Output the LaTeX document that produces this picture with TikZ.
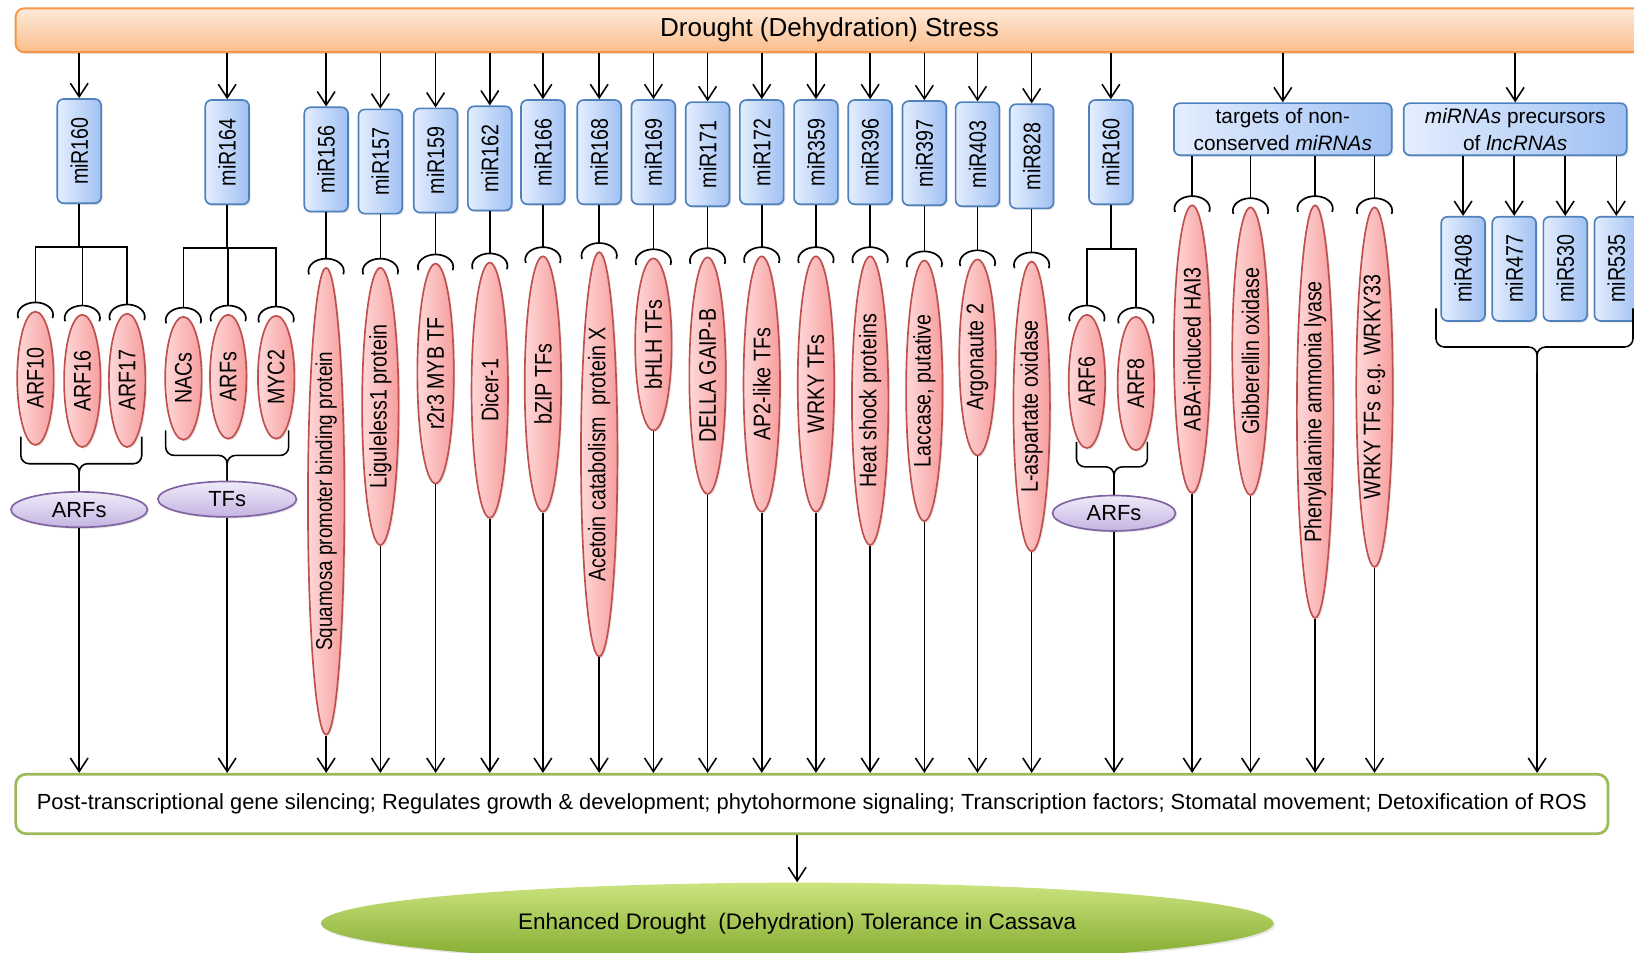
\documentclass[tikz,border=0pt]{standalone}
\usepackage{fontspec}
\setmainfont{Liberation Sans}
\newfontfamily\narrowfont[FakeStretch=0.82]{Liberation Sans}
\usepackage{graphicx}
\usetikzlibrary{arrows.meta,shapes.geometric,shadows}

\definecolor{barline}{RGB}{247,150,70}
\definecolor{bartop}{RGB}{253,234,218}
\definecolor{barbot}{RGB}{251,190,140}
\definecolor{mirline}{RGB}{79,129,189}
\definecolor{mirL}{RGB}{228,238,254}
\definecolor{mirR}{RGB}{160,193,243}
\definecolor{tgtline}{RGB}{192,80,77}
\definecolor{tgtL}{RGB}{255,216,216}
\definecolor{tgtR}{RGB}{247,158,158}
\definecolor{famline}{RGB}{128,100,162}
\definecolor{famtop}{RGB}{240,235,249}
\definecolor{fambot}{RGB}{196,180,226}
\definecolor{roleline}{RGB}{155,187,89}
\definecolor{toltop}{RGB}{204,228,128}
\definecolor{tolbot}{RGB}{126,168,42}

\newcommand{\vlabel}[1]{\rotatebox{90}{#1}}

\tikzset{
  arr/.style={-{Straight Barb[length=6.5pt,width=8.5pt]}, line width=0.75pt},
  link/.style={line width=0.75pt},
  soft/.style={drop shadow={opacity=0.2,shadow xshift=0.8pt,shadow yshift=-0.8pt}},
  stressbar/.style={rectangle, rounded corners=4pt, draw=barline, line width=0.9pt, top color=bartop, bottom color=barbot, minimum width=781pt, minimum height=21pt, font=\fontsize{12.5pt}{14pt}\selectfont, soft},
  mirbox/.style={rectangle, rounded corners=3pt, draw=mirline, line width=0.8pt, left color=mirL, right color=mirR, minimum width=21pt, minimum height=50pt, inner sep=0pt, font=\narrowfont\fontsize{11.5pt}{13pt}\selectfont, soft},
  groupbox/.style={mirbox, minimum height=25pt, align=center, font=\fontsize{10pt}{13pt}\selectfont},
  target/.style={ellipse, draw=tgtline, line width=0.8pt, left color=tgtL, right color=tgtR, minimum width=17.5pt, inner sep=0pt, font=\narrowfont\fontsize{11.5pt}{13pt}\selectfont, soft},
  family/.style={ellipse, draw=famline, line width=0.8pt, top color=famtop, bottom color=fambot, minimum height=17pt, inner sep=0pt, font=\fontsize{10.5pt}{12pt}\selectfont, soft},
  rolebox/.style={rectangle, rounded corners=5pt, draw=roleline, line width=1.3pt, fill=white, minimum width=764pt, minimum height=28.5pt, font=\fontsize{10.5pt}{12pt}\selectfont},
  outcome/.style={ellipse, top color=toltop, bottom color=tolbot, minimum width=457pt, minimum height=39pt, font=\fontsize{10.8pt}{12pt}\selectfont, soft},
  bcap/.pic={\draw[line width=0.8pt] (195:8.5pt and 6pt) arc[start angle=195, end angle=-15, x radius=8.5pt, y radius=6pt];
    \coordinate (-top) at (0,6pt);}
}

\begin{document}
\begin{tikzpicture}[x=0.5pt,y=-0.5pt]
\useasboundingbox (0,0) rectangle (1568,914);

%Shape: stress bar
\node[stressbar] (stress) at (796,29) {Drought (Dehydration) Stress};

%Shape: miRNA boxes
\node[mirbox] (m160a) at (76,145) {\vlabel{miR160}};
\node[mirbox] (m164) at (218,146) {\vlabel{miR164}};
\node[mirbox] (m156) at (313,153) {\vlabel{miR156}};
\node[mirbox] (m157) at (365,155) {\vlabel{miR157}};
\node[mirbox] (m159) at (418,154) {\vlabel{miR159}};
\node[mirbox] (m162) at (470,152) {\vlabel{miR162}};
\node[mirbox] (m166) at (521,146) {\vlabel{miR166}};
\node[mirbox] (m168) at (575,146) {\vlabel{miR168}};
\node[mirbox] (m169) at (627,146) {\vlabel{miR169}};
\node[mirbox] (m171) at (679,148) {\vlabel{miR171}};
\node[mirbox] (m172) at (731,146) {\vlabel{miR172}};
\node[mirbox] (m359) at (783,146) {\vlabel{miR359}};
\node[mirbox] (m396) at (835,146) {\vlabel{miR396}};
\node[mirbox] (m397) at (887,147) {\vlabel{miR397}};
\node[mirbox] (m403) at (938,148) {\vlabel{miR403}};
\node[mirbox] (m828) at (990,150) {\vlabel{miR828}};
\node[mirbox] (m160b) at (1066,146) {\vlabel{miR160}};
\node[groupbox, minimum width=104.5pt] (tgt) at (1231,124) {targets of non-\\conserved \emph{miRNAs}};
\node[groupbox, minimum width=107pt] (prec) at (1454,124) {\emph{miRNAs} precursors\\of \emph{lncRNAs}};
\node[mirbox] (m408) at (1404,258) {\vlabel{miR408}};
\node[mirbox] (m477) at (1453,258) {\vlabel{miR477}};
\node[mirbox] (m530) at (1502,258) {\vlabel{miR530}};
\node[mirbox] (m535) at (1551,258) {\vlabel{miR535}};

%Shape: target ellipses
\node[target, minimum height=64pt] (eARF10) at (34,363) {\vlabel{ARF10}};
\node[target, minimum height=63.5pt] (eARF16) at (79,365.5) {\vlabel{ARF16}};
\node[target, minimum height=64pt] (eARF17) at (122,365) {\vlabel{ARF17}};
\node[target, minimum height=59pt] (eNAC) at (176,363) {\vlabel{NACs}};
\node[target, minimum height=59.5pt] (eARFs) at (219,361.5) {\vlabel{ARFs}};
\node[target, minimum height=59pt] (eMYC) at (265,362) {\vlabel{MYC2}};
\node[target, minimum height=224pt, font=\narrowfont\fontsize{11pt}{13pt}\selectfont] (eSq) at (313,481) {\vlabel{Squamosa promoter binding protein}};
\node[target, minimum height=133pt] (eLig) at (365,390) {\vlabel{Liguleless1 protein}};
\node[target, minimum height=105.5pt] (eMYB) at (418,358.5) {\vlabel{r2r3 MYB TF}};
\node[target, minimum height=122.5pt] (eDic) at (470,374.5) {\vlabel{Dicer-1}};
\node[target, minimum height=122.5pt] (ebZIP) at (521,368.5) {\vlabel{bZIP TFs}};
\node[target, minimum height=194pt] (eAce) at (575,436) {\vlabel{Acetoin catabolism\ \ protein X}};
\node[target, minimum height=82.5pt] (ebHLH) at (627,330.5) {\vlabel{bHLH TFs}};
\node[target, minimum height=113.5pt] (eDEL) at (679,360.5) {\vlabel{DELLA GAIP-B}};
\node[target, minimum height=122.5pt] (eAP2) at (731,368.5) {\vlabel{AP2-like TFs}};
\node[target, minimum height=122.5pt] (eWRKY) at (783,368.5) {\vlabel{WRKY TFs}};
\node[target, minimum height=138.5pt] (eHS) at (835,384.5) {\vlabel{Heat shock proteins}};
\node[target, minimum height=125pt] (eLac) at (887,375) {\vlabel{Laccase, putative}};
\node[target, minimum height=94pt] (eArg) at (938,343) {\vlabel{Argonaute 2}};
\node[target, minimum height=139pt] (eLasp) at (990,390) {\vlabel{L-aspartate oxidase}};
\node[target, minimum height=64pt] (eARF6) at (1043,366) {\vlabel{ARF6}};
\node[target, minimum height=64pt] (eARF8) at (1090,368) {\vlabel{ARF8}};
\node[target, minimum height=138pt] (eABA) at (1144,335) {\vlabel{ABA-induced HAI3}};
\node[target, minimum height=138pt] (eGib) at (1200,337) {\vlabel{Gibberellin oxidase}};
\node[target, minimum height=198pt] (ePAL) at (1262,395) {\vlabel{Phenylalanine ammonia lyase}};
\node[target, minimum height=172.5pt] (eW33) at (1319,371.5) {\vlabel{WRKY TFs e.g. WRKY33}};

%Shape: binding caps
\foreach \e in {ARF10,ARF16,ARF17,NAC,ARFs,MYC,Sq,Lig,MYB,Dic,bZIP,Ace,bHLH,DEL,AP2,WRKY,HS,Lac,Arg,Lasp,ARF6,ARF8,ABA,Gib,PAL,W33}
  \pic (c\e) at ([yshift=-2pt]e\e.north) {bcap};

%Shape: gene families
\node[family, minimum width=65.5pt] (fA) at (76,489) {ARFs};
\node[family, minimum width=66.5pt] (fT) at (218,479) {TFs};
\node[family, minimum width=59pt] (fB) at (1069,492.5) {ARFs};

%Shape: roles box
\node[rolebox] (role) at (779,771.5) {Post-transcriptional gene silencing; Regulates growth \& development; phytohormone signaling; Transcription factors; Stomatal movement; Detoxification of ROS};

%Shape: outcome ellipse
\node[outcome] (tol) at (765,886) {Enhanced Drought\ \ (Dehydration) Tolerance in Cassava};

% stress to miRNAs
\foreach \m in {m160a,m164,m156,m157,m159,m162,m166,m168,m169,m171,m172,m359,m396,m397,m403,m828,m160b,tgt,prec}
  \draw[arr] (stress.south -| \m) -- (\m);
\foreach \m in {m408,m477,m530,m535}
  \draw[arr] (prec.south -| \m) -- (\m);

% miRNAs to targets
\coordinate (j160a) at (m160a.south |- 0,237);
\draw[link] (m160a) -- (j160a);
\draw[link] (cARF10-top) |- (j160a) -| (cARF17-top);
\draw[link] (cARF16-top) -- (cARF16-top |- j160a);
\coordinate (j164) at (m164.south |- 0,238);
\draw[link] (m164) -- (j164);
\draw[link] (cNAC-top) |- (j164) -| (cMYC-top);
\draw[link] (cARFs-top) -- (cARFs-top |- j164);
\coordinate (j160b) at (m160b.south |- 0,239);
\draw[link] (m160b) -- (j160b);
\draw[link] (cARF6-top) |- (j160b) -| (cARF8-top);
\draw[link] (m156) -- (cSq-top);
\draw[link] (m157) -- (cLig-top);
\draw[link] (m159) -- (cMYB-top);
\draw[link] (m162) -- (cDic-top);
\draw[link] (m166) -- (cbZIP-top);
\draw[link] (m168) -- (cAce-top);
\draw[link] (m169) -- (cbHLH-top);
\draw[link] (m171) -- (cDEL-top);
\draw[link] (m172) -- (cAP2-top);
\draw[link] (m359) -- (cWRKY-top);
\draw[link] (m396) -- (cHS-top);
\draw[link] (m397) -- (cLac-top);
\draw[link] (m403) -- (cArg-top);
\draw[link] (m828) -- (cLasp-top);
\foreach \e in {ABA,Gib,PAL,W33}
  \draw[link] (tgt.south -| c\e-top) -- (c\e-top);

% braces
\draw[link, rounded corners=4pt] (20,419) -- (20,445) -- (fA.north |- 0,445) -- (fA.north);
\draw[link, rounded corners=4pt] (136,419) -- (136,445) -- (fA.north |- 0,445) -- (fA.north);
\draw[link, rounded corners=4pt] (159,413) -- (159,437) -- (fT.north |- 0,437) -- (fT.north);
\draw[link, rounded corners=4pt] (277,413) -- (277,437) -- (fT.north |- 0,437) -- (fT.north);
\draw[link, rounded corners=4pt] (1033,424) -- (1033,448) -- (fB.north |- 0,448) -- (fB.north);
\draw[link, rounded corners=4pt] (1101,424) -- (1101,448) -- (fB.north |- 0,448) -- (fB.north);
\coordinate (jP) at (1475,358);
\draw[link, rounded corners=4pt] (1378,296) -- (1378,333) -- (jP |- 0,333) -- (jP);
\draw[link, rounded corners=4pt] (1567,296) -- (1567,333) -- (jP |- 0,333) -- (jP);

% targets to roles
\foreach \e in {fA,fT,eSq,eLig,eMYB,eDic,ebZIP,eAce,ebHLH,eDEL,eAP2,eWRKY,eHS,eLac,eArg,eLasp,fB,eABA,eGib,ePAL,eW33,jP}
  \draw[arr] (\e) -- (\e |- role.north);
\draw[arr] (role.south -| tol) -- (tol);

\end{tikzpicture}
\end{document}
